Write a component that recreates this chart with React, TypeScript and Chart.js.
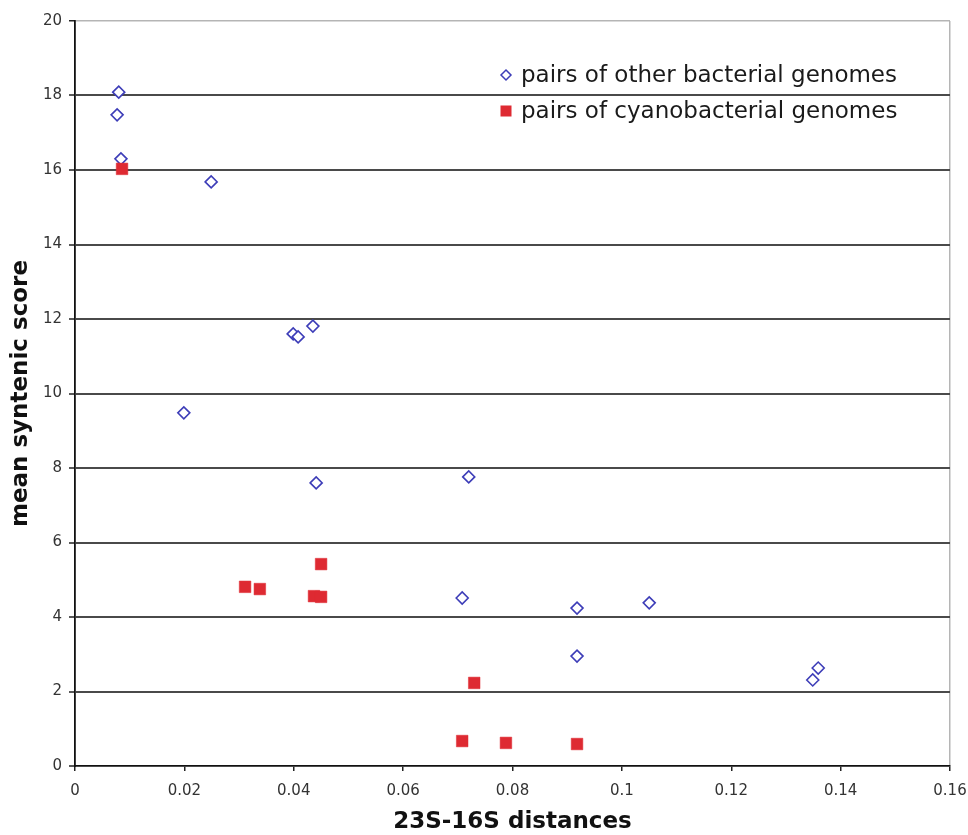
import React, { useEffect, useRef } from "react";
import { Chart, registerables } from "chart.js";

Chart.register(...registerables);

const otherX = [0.008, 0.0077, 0.0084, 0.0249, 0.0399, 0.0408, 0.0435, 0.0199, 0.0441, 0.072, 0.0708, 0.0918, 0.105, 0.0918, 0.1349, 0.1359];
const otherY = [18.09, 17.48, 16.3, 15.68, 11.6, 11.52, 11.81, 9.48, 7.6, 7.76, 4.51, 4.24, 4.38, 2.95, 2.31, 2.63];
const cyanoX = [0.0086, 0.0311, 0.0338, 0.045, 0.0437, 0.045, 0.073, 0.0708, 0.0788, 0.0918];
const cyanoY = [16.03, 4.81, 4.75, 5.42, 4.56, 4.54, 2.23, 0.67, 0.62, 0.59];
const xTickLabels = ["0", "0.02", "0.04", "0.06", "0.08", "0.1", "0.12", "0.14", "0.16"];
const yTickLabels = ["0", "2", "4", "6", "8", "10", "12", "14", "16", "18", "20"];
const seriesNames = ["pairs of other bacterial genomes", "pairs of cyanobacterial genomes"];
const xTitle = "23S-16S distances";
const yTitle = "mean syntenic score";

const BLUE = "#3d3db8";
const RED = "#de2a32";

const legendPlugin = {
  id: "insideLegend",
  afterDraw(chart: any) {
    const ctx = chart.ctx;
    const a = chart.chartArea;
    const x0 = a.left + 431;
    const y1 = a.top + 54;
    const y2 = a.top + 90;
    ctx.save();
    ctx.beginPath();
    ctx.moveTo(x0, y1 - 5);
    ctx.lineTo(x0 + 5, y1);
    ctx.lineTo(x0, y1 + 5);
    ctx.lineTo(x0 - 5, y1);
    ctx.closePath();
    ctx.fillStyle = "#fff";
    ctx.fill();
    ctx.lineWidth = 1.5;
    ctx.strokeStyle = BLUE;
    ctx.stroke();
    ctx.fillStyle = RED;
    ctx.fillRect(x0 - 5.5, y2 - 5.5, 11, 11);
    ctx.fillStyle = "#1a1a1a";
    ctx.font = '23px "DejaVu Sans"';
    ctx.textBaseline = "middle";
    ctx.textAlign = "left";
    ctx.fillText(seriesNames[0], x0 + 15, y1 + 1);
    ctx.fillText(seriesNames[1], x0 + 15, y2 + 1);
    ctx.restore();
  },
};

export default function App() {
  const ref = useRef<HTMLCanvasElement>(null);
  useEffect(() => {
    if (!ref.current) return;
    const chart = new Chart(ref.current, {
      type: "scatter",
      data: {
        datasets: [
          {
            label: seriesNames[0],
            data: otherX.map((x, i) => ({ x, y: otherY[i] })),
            pointStyle: "rectRot",
            pointRadius: 6,
            pointHoverRadius: 6,
            pointBackgroundColor: "#ffffff",
            pointBorderColor: BLUE,
            pointBorderWidth: 1.6,
            order: 1,
          },
          {
            label: seriesNames[1],
            data: cyanoX.map((x, i) => ({ x, y: cyanoY[i] })),
            pointStyle: "rect",
            pointRadius: 8.2,
            pointHoverRadius: 8.2,
            pointBackgroundColor: RED,
            pointBorderColor: RED,
            pointBorderWidth: 0.5,
            order: 0,
          },
        ],
      },
      options: {
        animation: false,
        responsive: true,
        maintainAspectRatio: false,
        layout: { padding: { left: 0, top: 21, right: 18, bottom: 0 } },
        plugins: {
          legend: { display: false },
          tooltip: { enabled: false },
        },
        scales: {
          x: {
            type: "linear",
            min: 0,
            max: 0.16,
            ticks: {
              stepSize: 0.02,
              padding: 11,
              color: "#333",
              font: { family: '"DejaVu Sans"', size: 15 },
              callback: (_v: any, i: number) => xTickLabels[i],
            },
            grid: {
              color: (c: any) => (c.tick && Math.abs(c.tick.value - 0.16) < 1e-9 ? "#b5b5b5" : "rgba(0,0,0,0)"),
              lineWidth: 1.5,
              tickLength: 5,
              tickColor: "#222",
              tickWidth: 1.5,
            },
            border: { color: "#111", width: 1.8 },
            title: {
              display: true,
              text: xTitle,
              color: "#111",
              font: { family: '"DejaVu Sans"', size: 23, weight: "bold", lineHeight: 1 },
              padding: { top: 0, bottom: 1 },
            },
            afterFit: (s: any) => {
              s.height = 69;
              s.paddingRight = 0;
              s.paddingLeft = 0;
            },
          },
          y: {
            type: "linear",
            min: 0,
            max: 20,
            ticks: {
              stepSize: 2,
              padding: 7,
              color: "#333",
              font: { family: '"DejaVu Sans"', size: 15 },
              callback: (_v: any, i: number) => yTickLabels[i],
            },
            grid: {
              color: (c: any) => {
                const v = c.tick ? c.tick.value : -1;
                if (v === 20) return "#b5b5b5";
                if (v === 0) return "rgba(0,0,0,0)";
                return "#4a4a4a";
              },
              lineWidth: (c: any) => (c.tick && c.tick.value === 20 ? 1.5 : 2),
              tickLength: 6,
              tickColor: "#222",
              tickWidth: 1.5,
            },
            border: { color: "#111", width: 1.8 },
            title: {
              display: true,
              text: yTitle,
              color: "#111",
              font: { family: '"DejaVu Sans"', size: 23, weight: "bold", lineHeight: 1 },
              padding: { top: 10, bottom: 0 },
            },
            afterFit: (s: any) => {
              s.width = 75;
            },
          },
        },
      },
      plugins: [legendPlugin],
    });
    return () => chart.destroy();
  }, []);

  return (
    <div style={{ position: "fixed", left: 0, top: 0, width: 968, height: 835, background: "#fff" }}>
      <canvas ref={ref} />
    </div>
  );
}
